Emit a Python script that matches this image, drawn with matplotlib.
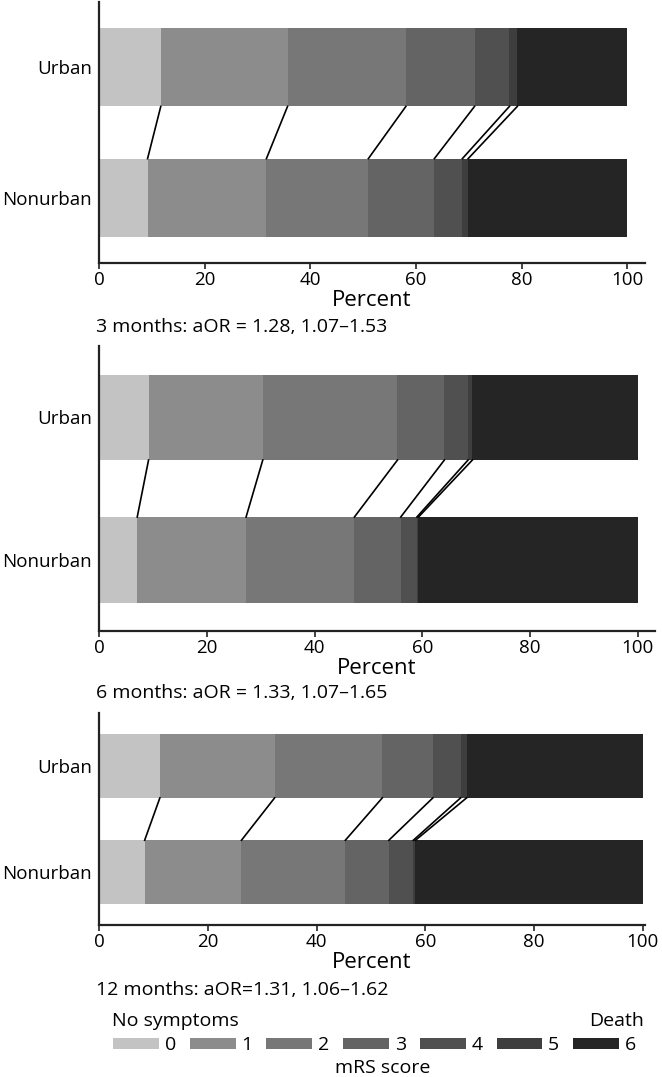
import numpy as np
import matplotlib
matplotlib.use("Agg")
import matplotlib.pyplot as plt
from matplotlib.patches import Patch

plt.rcParams["font.family"] = ["Open Sans", "DejaVu Sans"]

groups = ["Urban", "Nonurban"]
scores = ["0", "1", "2", "3", "4", "5", "6"]
colors = ["#c3c3c3", "#8c8c8c", "#777777", "#646464", "#505050", "#3e3e3e", "#252525"]

# mRS distribution (percent) per time point
urban_3m = [11.7, 24.0, 22.4, 13.0, 6.6, 1.5, 20.8]
nonurban_3m = [9.2, 22.5, 19.3, 12.5, 5.3, 1.1, 30.1]
urban_6m = [9.2, 21.2, 25.0, 8.7, 4.4, 0.8, 30.7]
nonurban_6m = [7.1, 20.2, 20.1, 8.6, 3.0, 0.3, 40.7]
urban_12m = [11.2, 21.1, 19.8, 9.3, 5.1, 1.1, 32.4]
nonurban_12m = [8.4, 17.8, 19.1, 8.0, 4.5, 0.4, 41.8]

captions = ["3 months: aOR = 1.28, 1.07\u20131.53",
            "6 months: aOR = 1.33, 1.07\u20131.65",
            "12 months: aOR=1.31, 1.06\u20131.62"]

panels = [(urban_3m, nonurban_3m, [0.1495, 0.7558, 0.825, 0.2423], 103.4, 327),
          (urban_6m, nonurban_6m, [0.1495, 0.4141, 0.84, 0.2646], 103.2, 693),
          (urban_12m, nonurban_12m, [0.1495, 0.1411, 0.8248, 0.1968], 100.4, 990)]

W, H = 662, 1077
fig = plt.figure(figsize=(W / 100, H / 100), dpi=100)

for (urb, non, rect, xmax, cap_y), cap in zip(panels, captions):
    ax = fig.add_axes(rect)
    h = 0.6
    ypos = {"Urban": 1, "Nonurban": 0}
    for g, vals in zip(groups, [urb, non]):
        left = 0
        for v, c in zip(vals, colors):
            ax.barh(ypos[g], v, left=left, height=h, color=c, edgecolor="none")
            left += v
    cu = np.cumsum(urb)[:-1]
    cn = np.cumsum(non)[:-1]
    for a, b in zip(cu, cn):
        ax.plot([a, b], [1 - h / 2, h / 2], color="black", lw=1.2)
    ax.set_xlim(0, xmax)
    ax.set_ylim(-0.5, 1.5)
    ax.set_yticks([1, 0])
    ax.set_yticklabels(groups)
    ax.set_xticks([0, 20, 40, 60, 80, 100])
    ax.tick_params(axis="y", length=0, labelsize=13.5, pad=5)
    ax.tick_params(axis="x", length=4, width=1.2, labelsize=13.5, pad=1.5, color="#222222")
    ax.set_xlabel("Percent", fontsize=16, labelpad=1)
    for s in ["top", "right"]:
        ax.spines[s].set_visible(False)
    for s in ["left", "bottom"]:
        ax.spines[s].set_linewidth(1.6)
        ax.spines[s].set_color("#222222")
    fig.text(96 / W, 1 - cap_y / H, cap, fontsize=14, va="center", ha="left")

handles = [Patch(facecolor=c, edgecolor="none") for c in colors]
fig.legend(handles, scores, loc="center", bbox_to_anchor=(374.5 / W, 1 - 1045.5 / H),
           ncol=7, frameon=False, fontsize=14, handlelength=2.35, handleheight=0.46,
           handletextpad=0.3, columnspacing=0.72, borderpad=0)
fig.text(112 / W, 1 - 1021 / H, "No symptoms", fontsize=14, ha="left", va="center")
fig.text(644 / W, 1 - 1021 / H, "Death", fontsize=14, ha="right", va="center")
fig.text(382.5 / W, 1 - 1068 / H, "mRS score", fontsize=14, ha="center", va="center")

fig.savefig("out.png", dpi=100)
